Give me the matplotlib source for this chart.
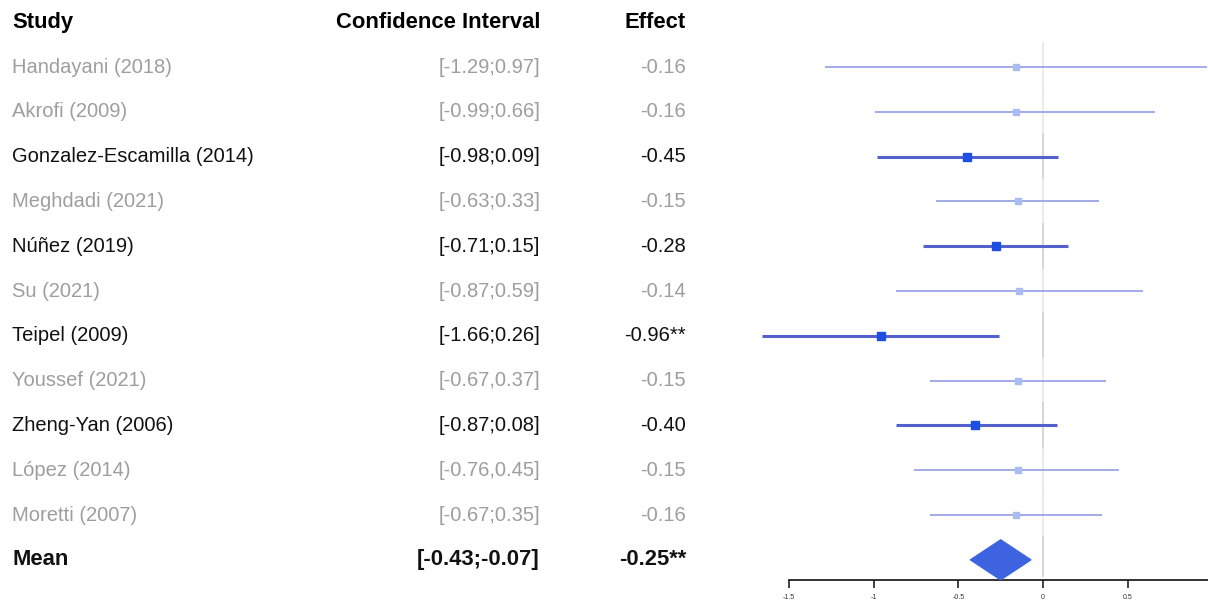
import matplotlib
matplotlib.use("Agg")
import matplotlib.pyplot as plt
import matplotlib.transforms as mtransforms
from matplotlib.patches import Polygon

plt.rcParams['font.family'] = ['Liberation Sans', 'DejaVu Sans']

# ---------------- data ----------------
studies = ["Handayani (2018)", "Akrofi (2009)", "Gonzalez-Escamilla (2014)",
           "Meghdadi (2021)", "Núñez (2019)", "Su (2021)", "Teipel (2009)",
           "Youssef (2021)", "Zheng-Yan (2006)", "López (2014)", "Moretti (2007)"]
effects = [-0.16, -0.16, -0.45, -0.15, -0.28, -0.14, -0.96, -0.15, -0.40, -0.15, -0.16]
lower = [-1.29, -0.99, -0.98, -0.63, -0.71, -0.87, -1.66, -0.67, -0.87, -0.76, -0.67]
upper = [0.97, 0.66, 0.09, 0.33, 0.15, 0.59, -0.26, 0.37, 0.08, 0.45, 0.35]
ci_labels = ["[-1.29;0.97]", "[-0.99;0.66]", "[-0.98;0.09]", "[-0.63;0.33]",
             "[-0.71;0.15]", "[-0.87;0.59]", "[-1.66;0.26]", "[-0.67,0.37]",
             "[-0.87;0.08]", "[-0.76,0.45]", "[-0.67;0.35]"]
effect_labels = ["-0.16", "-0.16", "-0.45", "-0.15", "-0.28", "-0.14", "-0.96**",
                 "-0.15", "-0.40", "-0.15", "-0.16"]
highlight = [False, False, True, False, True, False, True, False, True, False, False]

mean_label = "Mean"
mean_effect = -0.25
mean_lower = -0.43
mean_upper = -0.07
mean_ci_label = "[-0.43;-0.07]"
mean_effect_label = "-0.25**"

headers = ["Study", "Confidence Interval", "Effect"]
xticks = [-1.5, -1, -0.5, 0, 0.5]
xtick_labels = ["-1.5", "-1", "-0.5", "0", "0.5"]

# ---------------- figure ----------------
W, H = 1208, 603
fig = plt.figure(figsize=(W / 100, H / 100), dpi=100)
ax = fig.add_axes([760 / W, 23 / H, (W - 760) / W, (H - 23) / H])
ax.set_xlim(-1.672, 0.975)
n = len(studies)
ax.set_ylim(n + 0.45, -1.496)

for s in ["top", "right", "left"]:
    ax.spines[s].set_visible(False)
ax.spines["bottom"].set_bounds(-1.5, 0.975)
ax.spines["bottom"].set_linewidth(1.3)
ax.spines["bottom"].set_color("#222222")
ax.set_yticks([])
ax.set_xticks(xticks)
ax.set_xticklabels(xtick_labels, fontsize=5, color="#333333")
ax.tick_params(axis="x", direction="out", length=6, width=1.2, color="#222222", pad=4)

# zero reference line, segment per row
for i in range(n + 1):
    dark = (i < n and highlight[i]) or i == n
    ax.plot([0, 0], [i - 0.5 if i > 0 else -0.54, i + 0.5 if i < n else n + 0.35],
            color="#cfcfcf" if dark else "#e6e6e6", lw=1.2, zorder=1)

# study rows
for i in range(n):
    if highlight[i]:
        lc, mc, lw, ms = "#5361cc", "#1d4fe3", 2.2, 5.5
    else:
        lc, mc, lw, ms = "#a2abe8", "#a9bcf4", 1.4, 5
    ax.plot([lower[i], upper[i]], [i, i], color=lc, lw=lw, solid_capstyle="butt", zorder=2)
    ax.plot(effects[i], i, marker="s", color=mc, ms=ms, mec=mc, zorder=3)

# mean diamond
half_h = 0.45
diamond = Polygon([(mean_lower, n), (mean_effect, n - half_h),
                   (mean_upper, n), (mean_effect, n + half_h)],
                  closed=True, facecolor="#3d63e0", edgecolor="#3d63e0", lw=0.8, zorder=3)
ax.add_patch(diamond)

# ---------------- text table ----------------
tr = mtransforms.blended_transform_factory(fig.transFigure, ax.transData)
x_study = 12 / W
x_ci = 540 / W
x_eff = 686 / W
fs = 14.5
fsb = 15.8

ax.text(x_study, -1, headers[0], transform=tr, ha="left", va="center",
        fontsize=fsb, fontweight="bold", clip_on=False)
ax.text(x_ci, -1, headers[1], transform=tr, ha="right", va="center",
        fontsize=fsb, fontweight="bold", clip_on=False)
ax.text(x_eff, -1, headers[2], transform=tr, ha="right", va="center",
        fontsize=fsb, fontweight="bold", clip_on=False)

for i in range(n):
    col = "#111111" if highlight[i] else "#9e9e9e"
    ax.text(x_study, i, studies[i], transform=tr, ha="left", va="center",
            fontsize=fs, color=col, clip_on=False)
    ax.text(x_ci, i, ci_labels[i], transform=tr, ha="right", va="center",
            fontsize=fs, color=col, clip_on=False)
    ax.text(x_eff, i, effect_labels[i], transform=tr, ha="right", va="center",
            fontsize=fs, color=col, clip_on=False)

ax.text(x_study, n, mean_label, transform=tr, ha="left", va="center",
        fontsize=fsb, fontweight="bold", color="#111111", clip_on=False)
ax.text(x_ci, n, mean_ci_label, transform=tr, ha="right", va="center",
        fontsize=fsb, fontweight="bold", color="#111111", clip_on=False)
ax.text(x_eff, n, mean_effect_label, transform=tr, ha="right", va="center",
        fontsize=fsb, fontweight="bold", color="#111111", clip_on=False)

fig.savefig("out.png", dpi=100)
